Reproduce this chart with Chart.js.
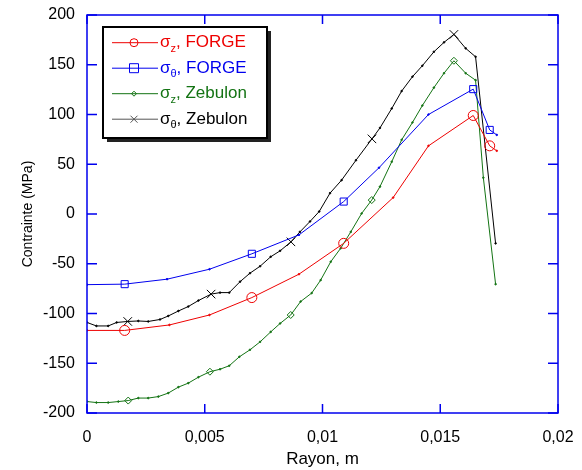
<!DOCTYPE html>
<html>
<head>
<meta charset="utf-8">
<script src="https://cdn.jsdelivr.net/npm/chart.js@4/dist/chart.umd.min.js"></script>
<style>
    body { margin: 0; background: #fff; }
    canvas { display: block; }
</style>
</head>
<body>
<canvas id="chart" width="582" height="470"></canvas>
<script>
// Data
const xTicks = [0, 0.005, 0.01, 0.015, 0.02];
const xTickLabels = ['0', '0,005', '0,01', '0,015', '0,02'];
const yTicks = [-200, -150, -100, -50, 0, 50, 100, 150, 200];

const forgeZx = [0, 0.0016, 0.0035, 0.0052, 0.0070, 0.0090, 0.0109, 0.0130, 0.0145, 0.0164, 0.0171, 0.0174];
const forgeZy = [-117, -117, -111.5, -101.5, -84, -60.5, -29.5, 16.5, 68.5, 99, 68.5, 63.5];
const forgeZmarks = [1, 4, 6, 9, 10];

const forgeTx = [0, 0.0016, 0.0034, 0.0052, 0.0070, 0.0090, 0.0109, 0.0124, 0.0145, 0.0164, 0.0171, 0.0174];
const forgeTy = [-71, -70.5, -65.5, -55.5, -40, -21, 12.5, 46.5, 100, 125.5, 84.5, 79.5];
const forgeTmarks = [1, 4, 6, 9, 10];

const zebZx = [0, 0.0004, 0.0009, 0.00133, 0.00175, 0.00218, 0.0026, 0.00303, 0.00345, 0.00388, 0.0043, 0.00473,
    0.00522, 0.00565, 0.00604, 0.00647, 0.00692, 0.00735, 0.0078, 0.0082, 0.00865, 0.00907, 0.00954, 0.00992,
    0.01035, 0.01077, 0.0112, 0.01166, 0.01209, 0.01244, 0.01294, 0.01336, 0.01382, 0.01424, 0.01473, 0.01516,
    0.01558, 0.01608, 0.0165, 0.01683, 0.01735];
const zebZy = [-188.5, -189.5, -189.5, -188.5, -187.5, -185, -185, -183.5, -180, -174, -170, -164,
    -158.5, -156, -152.5, -143.5, -136.5, -128.5, -118.5, -110, -101.5, -88, -79.5, -66.5,
    -48, -34.5, -18, 0.5, 14, 27.5, 52.5, 74.5, 92, 109, 127, 141.5,
    154, 141.5, 134.5, 36.5, -70.5];
const zebZmarks = [4, 12, 20, 28, 36];

const zebTx = [0, 0.0004, 0.0009, 0.00126, 0.00173, 0.00218, 0.0026, 0.0031, 0.00345, 0.00388, 0.0043, 0.00473,
    0.00527, 0.00565, 0.00604, 0.0065, 0.00692, 0.00735, 0.0078, 0.0082, 0.00866, 0.00904, 0.00947, 0.00986,
    0.01032, 0.01081, 0.01142, 0.0121, 0.01244, 0.01294, 0.01336, 0.01382, 0.01424, 0.01473, 0.01516,
    0.01558, 0.01608, 0.0165, 0.01735];
const zebTy = [-109, -112.5, -112.5, -109, -108, -107.5, -108, -106, -102.5, -97.5, -93, -87,
    -80.5, -79, -79, -68, -59.5, -52.5, -43, -37, -28, -18, -7.5, 2.5,
    21, 34, 54, 75.5, 86.5, 106, 123.5, 138, 149, 163, 172.5,
    180.5, 166.5, 158, -29.5];
const zebTmarks = [4, 12, 20, 27, 35];

const seriesNames = ['FORGE', 'FORGE', 'Zebulon', 'Zebulon'];
const seriesSubs = ['z', '\u03b8', 'z', '\u03b8'];

const BLUE = '#0000ee';
const GREEN = '#137313';
const FONT = '"Liberation Sans", Arial, Helvetica, sans-serif';

function toPoints(xs, ys) {
    return xs.map((x, i) => ({x: x, y: ys[i]}));
}

function makeSet(label, xs, ys, marks, color, style, radius) {
    return {
        label: label,
        data: toPoints(xs, ys),
        borderColor: color,
        borderWidth: 1,
        tension: 0,
        pointStyle: ctx => marks.includes(ctx.dataIndex) ? style : 'circle',
        pointRadius: ctx => marks.includes(ctx.dataIndex) ? radius : 0.8,
        pointBorderColor: color,
        pointBackgroundColor: ctx => marks.includes(ctx.dataIndex) ? 'rgba(0,0,0,0)' : color,
        pointBorderWidth: 1,
        pointHoverRadius: 0
    };
}

const datasets = [
    makeSet('sz FORGE', forgeZx, forgeZy, forgeZmarks, '#ee0000', 'circle', 5),
    makeSet('st FORGE', forgeTx, forgeTy, forgeTmarks, BLUE, 'rect', 5),
    makeSet('sz Zebulon', zebZx, zebZy, zebZmarks, GREEN, 'rectRot', 3.5),
    makeSet('st Zebulon', zebTx, zebTy, zebTmarks, '#000000', 'crossRot', 6)
];
const legendColors = ['#ee0000', BLUE, GREEN, '#000000'];
const legendStyles = ['circle', 'rect', 'rectRot', 'crossRot'];

// Box around the plot with inward ticks on all four sides
const frame = {
    id: 'frame',
    afterDraw(chart) {
        const ctx = chart.ctx;
        const a = chart.chartArea;
        const xs = chart.scales.x, ys = chart.scales.y;
        ctx.save();
        ctx.strokeStyle = BLUE;
        ctx.lineWidth = 1.5;
        ctx.strokeRect(a.left, a.top, a.right - a.left, a.bottom - a.top);
        ctx.beginPath();
        xTicks.forEach(v => {
            const px = xs.getPixelForValue(v);
            ctx.moveTo(px, a.bottom); ctx.lineTo(px, a.bottom - 9);
            ctx.moveTo(px, a.top); ctx.lineTo(px, a.top + 9);
        });
        yTicks.forEach(v => {
            const py = ys.getPixelForValue(v);
            ctx.moveTo(a.left, py); ctx.lineTo(a.left + 10, py);
            ctx.moveTo(a.right, py); ctx.lineTo(a.right - 10, py);
        });
        ctx.stroke();
        ctx.restore();
    }
};

function drawMarker(ctx, style, x, y, r) {
    ctx.beginPath();
    if (style === 'circle') {
        ctx.arc(x, y, r, 0, Math.PI * 2);
    } else if (style === 'rect') {
        ctx.rect(x - r, y - r, 2 * r, 2 * r);
    } else if (style === 'rectRot') {
        ctx.moveTo(x, y - r); ctx.lineTo(x + r, y); ctx.lineTo(x, y + r); ctx.lineTo(x - r, y); ctx.closePath();
    } else {
        const d = r * 0.7;
        ctx.moveTo(x - d, y - d); ctx.lineTo(x + d, y + d);
        ctx.moveTo(x + d, y - d); ctx.lineTo(x - d, y + d);
    }
    ctx.stroke();
}

// Boxed legend inside the plot
const boxLegend = {
    id: 'boxLegend',
    afterDraw(chart) {
        const ctx = chart.ctx;
        const bx = 103, by = 27, bw = 164, bh = 111;
        ctx.save();
        ctx.fillStyle = '#222';
        ctx.fillRect(bx + 4, by + 4, bw, bh);
        ctx.fillStyle = '#fff';
        ctx.fillRect(bx, by, bw, bh);
        ctx.strokeStyle = '#000';
        ctx.lineWidth = 2;
        ctx.strokeRect(bx, by, bw, bh);
        const radii = [4, 4.5, 2.5, 5];
        for (let i = 0; i < 4; i++) {
            const y = 42.7 + i * 25.5;
            const c = legendColors[i];
            ctx.strokeStyle = i === 3 ? '#555' : c;
            ctx.lineWidth = 1;
            ctx.beginPath();
            ctx.moveTo(112, y); ctx.lineTo(158, y);
            ctx.stroke();
            drawMarker(ctx, legendStyles[i], 134, y, radii[i]);
            ctx.fillStyle = c;
            ctx.textBaseline = 'middle';
            ctx.font = '17px ' + FONT;
            ctx.fillText('\u03c3', 160, y);
            let tx = 160 + ctx.measureText('\u03c3').width;
            ctx.font = '11px ' + FONT;
            ctx.fillText(seriesSubs[i], tx, y + 6);
            tx += ctx.measureText(seriesSubs[i]).width;
            ctx.font = '17px ' + FONT;
            ctx.fillText(', ' + seriesNames[i], tx, y);
        }
        ctx.restore();
    }
};

new Chart(document.getElementById('chart'), {
    type: 'line',
    data: { datasets: datasets },
    options: {
        responsive: false,
        animation: false,
        events: [],
        layout: { padding: { top: 15, right: 24, left: 0, bottom: 0 } },
        plugins: { legend: { display: false }, tooltip: { enabled: false } },
        scales: {
            x: {
                type: 'linear',
                min: 0, max: 0.02,
                afterFit: s => { s.height = 57; s.paddingLeft = 0; s.paddingRight = 0; },
                afterBuildTicks: s => { s.ticks = xTicks.map(v => ({value: v})); },
                grid: { display: false, drawTicks: false },
                border: { display: false },
                ticks: {
                    padding: 15,
                    color: '#000',
                    font: { family: FONT, size: 16 },
                    maxRotation: 0,
                    callback: (v, i) => xTickLabels[i]
                },
                title: {
                    display: true,
                    text: 'Rayon, m',
                    color: '#000',
                    font: { family: FONT, size: 17 },
                    padding: { top: 0, bottom: 0 }
                }
            },
            y: {
                min: -200, max: 200,
                afterFit: s => { s.width = 87; s.paddingTop = 0; s.paddingBottom = 0; },
                afterBuildTicks: s => { s.ticks = yTicks.map(v => ({value: v})); },
                grid: { display: false, drawTicks: false },
                border: { display: false },
                ticks: {
                    padding: 12,
                    color: '#000',
                    font: { family: FONT, size: 16 }
                },
                title: {
                    display: true,
                    text: 'Contrainte (MPa)',
                    color: '#000',
                    font: { family: FONT, size: 14 },
                    padding: { top: 20, bottom: 0 }
                }
            }
        }
    },
    plugins: [frame, boxLegend]
});
</script>
</body>
</html>
